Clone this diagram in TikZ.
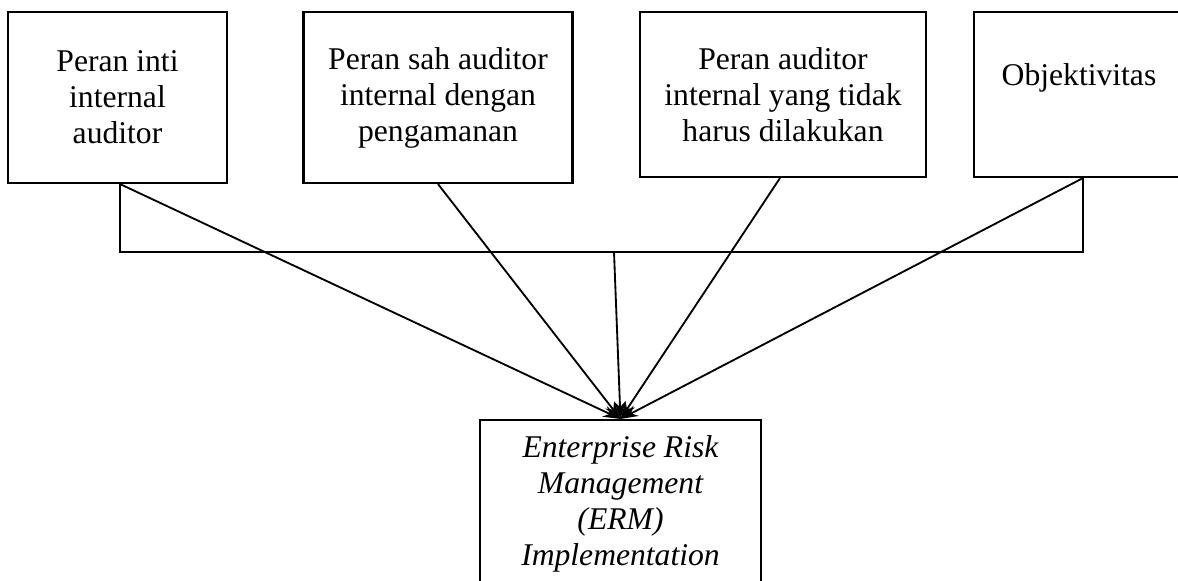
\documentclass[tikz,border=0pt]{standalone}
\usepackage{fontspec}
\setmainfont{Liberation Serif}
\usetikzlibrary{arrows.meta}

\tikzset{
  peran/.style={draw, line width=1.2pt, align=center, inner sep=0pt,
    font=\fontsize{18}{20.5}\selectfont},
  tolink/.style={line width=1.05pt},
  toarr/.style={line width=1.05pt, -{Stealth[length=10pt,width=6.5pt]}}
}

\begin{document}
\begin{tikzpicture}[x=0.02cm, y=-0.02cm]
	\useasboundingbox (0,0) rectangle (1178,581);
	\clip (0,0) rectangle (1178,581);
	% kotak atas
	\node[peran, minimum width=4.38cm, minimum height=3.42cm] (inti) at (117.5,97.5) {Peran inti\\internal\\auditor};
	\node[peran, minimum width=5.38cm, minimum height=3.42cm] (sah) at (438,97.5) {Peran sah auditor\\internal dengan\\pengamanan};
	\node[peran, minimum width=5.72cm, minimum height=3.30cm] (tidak) at (783,94.5) {Peran auditor\\internal yang tidak\\harus dilakukan};
	\node[peran, minimum width=4.6cm, minimum height=3.30cm] (obj) at (1089,94.5) {};
	\node[font=\fontsize{18}{20.5}\selectfont] (objtxt) at (1079,78) {Objektivitas};
	% kotak bawah
	\node[peran, minimum width=5.62cm, minimum height=3.36cm, font=\fontsize{18}{20.5}\selectfont\itshape] (erm) at (620.5,504)
		{Enterprise Risk\\Management\\(ERM)\\Implementation};
	% garis
	\coordinate (kiri) at (120,252);
	\coordinate (kanan) at (1083,252);
	\coordinate (tengah) at (614,252);
	\draw[tolink] (inti.south -| kiri) -- (kiri) -- (kanan) -- (obj.south -| kanan);
	\draw[toarr] (tengah) -- (erm.north);
	\draw[toarr] (inti.south -| kiri) -- (erm.north);
	\draw[toarr] (sah.south) -- (erm.north);
	\draw[toarr] (tidak.south) ++(-3,0) -- (erm.north);
	\draw[toarr] (obj.south -| kanan) -- (erm.north);
\end{tikzpicture}
\end{document}
